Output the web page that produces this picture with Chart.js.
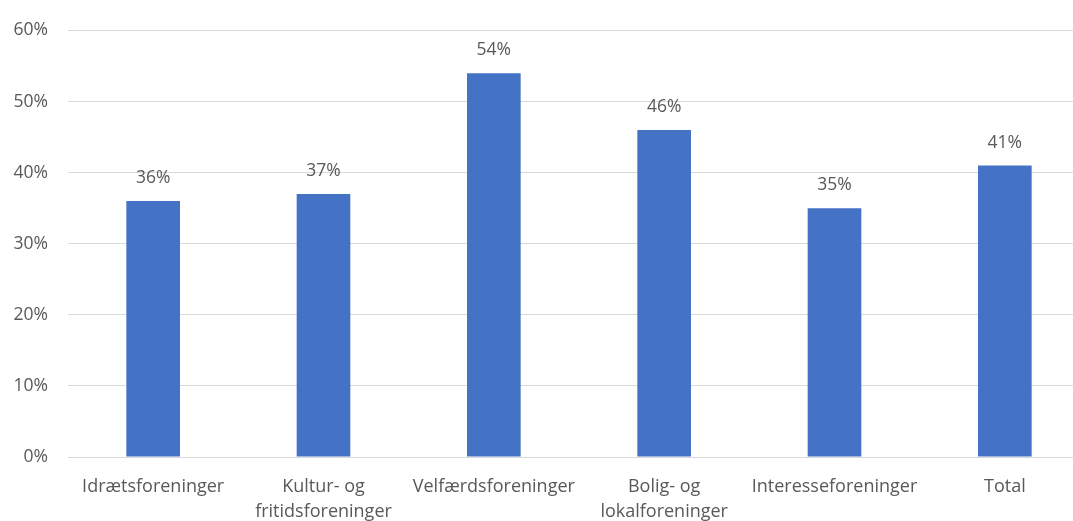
<!DOCTYPE html>
<html lang="da">
<head>
  <meta charset="UTF-8">
  <title>Foreninger</title>
  <script src="https://cdn.jsdelivr.net/npm/chart.js"></script>
  <style>
    html, body {
      margin: 0;
      padding: 0;
      background: #fff;
      overflow: hidden;
    }
    #wrap {
      width: 1090px;
      height: 521px;
    }
  </style>
</head>
<body>
  <div id="wrap"><canvas id="chart"></canvas></div>

  <script>
    const categories = [
      "Idrætsforeninger",
      ["Kultur- og", "fritidsforeninger"],
      "Velfærdsforeninger",
      ["Bolig- og", "lokalforeninger"],
      "Interesseforeninger",
      "Total"
    ];
    const values = [36, 37, 54, 46, 35, 41];
    const yTicks = [0, 10, 20, 30, 40, 50, 60];

    const textColor = "#595959";
    const fontFamily = "'Open Sans', sans-serif";

    // labels above the bars
    const valueLabels = {
      id: "valueLabels",
      afterDatasetsDraw(chart) {
        const ctx = chart.ctx;
        const meta = chart.getDatasetMeta(0);
        ctx.save();
        ctx.font = "17.5px " + fontFamily;
        ctx.fillStyle = textColor;
        ctx.textAlign = "center";
        ctx.textBaseline = "middle";
        meta.data.forEach((bar, i) => {
          ctx.fillText(values[i] + "%", bar.x, bar.y - 23);
        });
        ctx.restore();
      }
    };

    const ctx = document.getElementById("chart").getContext("2d");
    new Chart(ctx, {
      type: "bar",
      data: {
        labels: categories,
        datasets: [{
          data: values,
          backgroundColor: "#4472c4",
          barPercentage: 0.63,
          categoryPercentage: 0.5
        }]
      },
      options: {
        responsive: true,
        maintainAspectRatio: false,
        animation: false,
        layout: { padding: { top: 28, right: 0, left: 0, bottom: 0 } },
        plugins: {
          legend: { display: false },
          tooltip: { enabled: false }
        },
        scales: {
          x: {
            grid: { display: false },
            border: { color: "#d9d9d9" },
            ticks: {
              color: textColor,
              font: { family: fontFamily, size: 18, lineHeight: 1.4 },
              maxRotation: 0,
              autoSkip: false,
              padding: 9
            },
            afterFit(scale) { scale.height = 64; }
          },
          y: {
            min: 0,
            max: 60,
            afterBuildTicks(scale) {
              scale.ticks = yTicks.map(v => ({ value: v }));
            },
            grid: { color: "#d9d9d9", drawTicks: false },
            border: { display: false },
            ticks: {
              color: textColor,
              font: { family: fontFamily, size: 17.5 },
              padding: 20,
              callback: v => v + "%"
            },
            afterFit(scale) { scale.width = 68; }
          }
        }
      },
      plugins: [valueLabels]
    });
  </script>
</body>
</html>
